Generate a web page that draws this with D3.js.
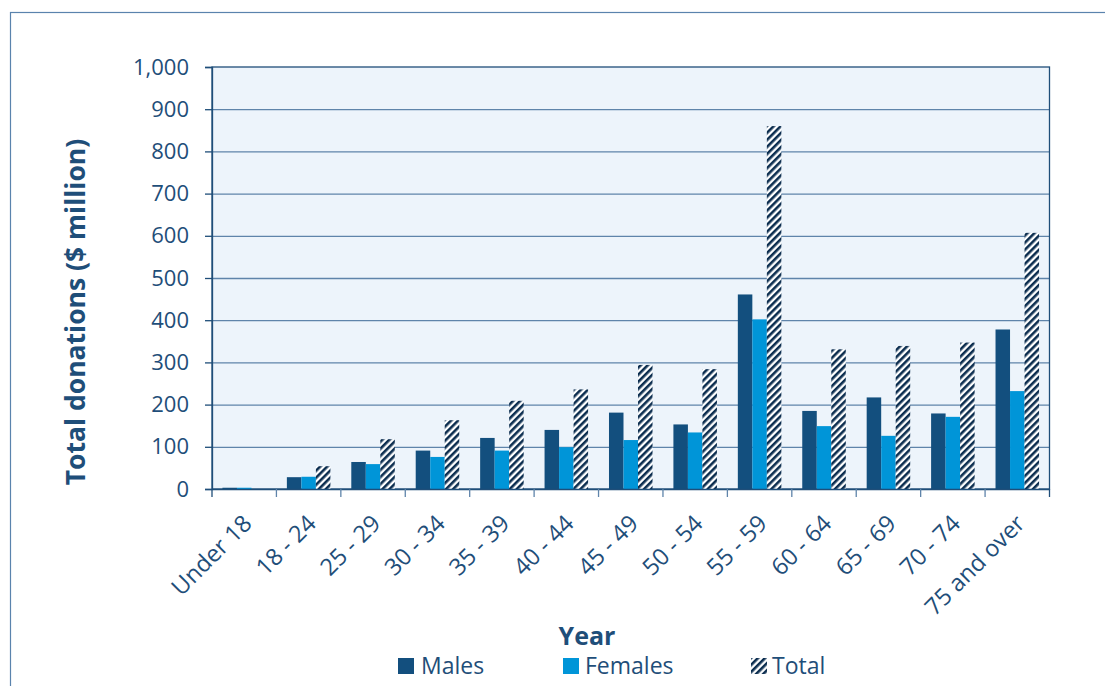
<!DOCTYPE html>
<html><head><meta charset="utf-8">
<script src="https://cdn.jsdelivr.net/npm/d3@7/dist/d3.min.js"></script>
<style>body{margin:0;background:#fff}svg{display:block}text{font-family:"Open Sans",sans-serif}</style>
</head><body>
<script>
const categories = ["Under 18","18 - 24","25 - 29","30 - 34","35 - 39","40 - 44","45 - 49","50 - 54","55 - 59","60 - 64","65 - 69","70 - 74","75 and over"];
const males   = [3, 28, 64, 91, 121, 140, 181, 153, 461, 185, 217, 179, 378];
const females = [3, 29, 59, 76, 91, 99, 116, 134, 402, 149, 126, 171, 232];
const total   = [null, 54, 118, 163, 209, 236, 294, 284, 860, 331, 339, 347, 607];
const seriesNames = ["Males","Females","Total"];
const yTicks = [0,100,200,300,400,500,600,700,800,900,1000];

const W = 1105, H = 686;
const m = {left:212, right:1049.5, top:67, bottom:489};
const ink = "#1f4e79";
const colors = {Males:"#134f7e", Females:"#0095d8", Total:"url(#stripes)"};

const svg = d3.select("body").append("svg").attr("width",W).attr("height",H);
const defs = svg.append("defs");
const pat = defs.append("pattern").attr("id","stripes").attr("width",5).attr("height",5)
  .attr("patternUnits","userSpaceOnUse").attr("patternTransform","rotate(45)");
pat.append("rect").attr("width",5).attr("height",5).attr("fill","#fff");
pat.append("rect").attr("width",2.6).attr("height",5).attr("fill","#0b2d4f");

// outer border
svg.append("rect").attr("x",10.5).attr("y",12.5).attr("width",1120).attr("height",700)
  .attr("fill","none").attr("stroke","#5a83ad").attr("stroke-width",1.2);

const x = d3.scaleBand().domain(categories).range([m.left,m.right]).padding(0);
const x1 = d3.scaleBand().domain(seriesNames).range([0,x.bandwidth()]).paddingInner(0).paddingOuter(0.72);
const y = d3.scaleLinear().domain([0,1000]).range([m.bottom,m.top]);

// plot background
svg.append("rect").attr("x",m.left).attr("y",m.top).attr("width",m.right-m.left).attr("height",m.bottom-m.top)
  .attr("fill","#edf4fb");

// gridlines
svg.append("g").selectAll("line").data(yTicks.filter(d=>d>0 && d<1000)).join("line")
  .attr("x1",m.left).attr("x2",m.right).attr("y1",d=>y(d)+0.5).attr("y2",d=>y(d)+0.5)
  .attr("stroke","#5f84aa").attr("stroke-width",1.3);

// plot border
svg.append("rect").attr("x",m.left).attr("y",m.top).attr("width",m.right-m.left).attr("height",m.bottom-m.top)
  .attr("fill","none").attr("stroke",ink).attr("stroke-width",1.3);

// bars
const rows = categories.map((c,i)=>({c, Males:males[i], Females:females[i], Total:total[i]}));
const gBars = svg.append("g");
rows.forEach(r=>{
  seriesNames.forEach(s=>{
    const v = r[s];
    if (v == null) return;
    gBars.append("rect")
      .attr("x", x(r.c)+x1(s)).attr("width", x1.bandwidth())
      .attr("y", y(v)).attr("height", y(0)-y(v))
      .attr("fill", colors[s]);
  });
});

// y axis
const yAxis = d3.axisLeft(y).tickValues(yTicks).tickSize(7).tickPadding(16).tickFormat(d3.format(","));
const gy = svg.append("g").attr("transform",`translate(${m.left},0)`).call(yAxis);
gy.select(".domain").attr("stroke",ink).attr("stroke-width",1.3);
gy.selectAll(".tick line").attr("stroke",ink).attr("stroke-width",1.3);
gy.selectAll(".tick text").attr("fill",ink).style("font-size","22px").style("font-family","'Open Sans',sans-serif");

// x axis
const xAxis = d3.axisBottom(x).tickSize(0).tickFormat("");
const gx = svg.append("g").attr("transform",`translate(0,${m.bottom})`).call(xAxis);
gx.select(".domain").attr("stroke",ink).attr("stroke-width",1.3);
const bounds = categories.map(c=>x(c)).concat([m.right]);
svg.append("g").selectAll("line").data(bounds).join("line")
  .attr("x1",d=>d).attr("x2",d=>d).attr("y1",m.bottom).attr("y2",m.bottom+8)
  .attr("stroke",(d,i)=> (i===0||i===bounds.length-1)?ink:"#5f84aa").attr("stroke-width",1.3);

svg.append("g").selectAll("text").data(categories).join("text")
  .attr("transform",d=>`translate(${x(d)+x.bandwidth()/2+9},${m.bottom+36}) rotate(-45)`)
  .attr("text-anchor","end").attr("fill",ink).style("font-size","23.5px").text(d=>d);

// y title
svg.append("text").attr("transform","translate(85,312) rotate(-90)").attr("text-anchor","middle")
  .attr("fill",ink).style("font-size","26.5px").style("font-weight","bold").text("Total donations ($ million)");

// x title
svg.append("text").attr("x",587).attr("y",645).attr("text-anchor","middle")
  .attr("fill",ink).style("font-size","25px").style("font-weight","bold").text("Year");

// legend
const legend = [{n:"Males",sx:398,tx:421},{n:"Females",sx:563,tx:585},{n:"Total",sx:751,tx:772}];
const gl = svg.append("g");
legend.forEach(l=>{
  gl.append("rect").attr("x",l.sx).attr("y",658).attr("width",16).attr("height",16).attr("fill",colors[l.n]);
  gl.append("text").attr("x",l.tx).attr("y",674).attr("fill",ink).style("font-size","23px").text(l.n);
});
</script>
</body></html>
